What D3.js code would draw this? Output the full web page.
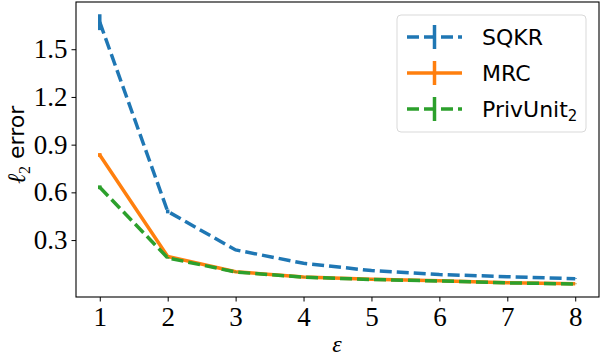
<!DOCTYPE html>
<html>
<head>
<meta charset="utf-8">
<script src="https://cdn.jsdelivr.net/npm/d3@7"></script>
<style>
  body { margin: 0; background: #fff; }
  svg { display: block; }
</style>
</head>
<body>
<script>
const width = 600;
const height = 358;

// data
var epsilons = [1, 2, 3, 4, 5, 6, 7, 8];
var sqkr = [1.67, 0.48, 0.238, 0.154, 0.108, 0.083, 0.070, 0.057];
var sqkr_err = [0.05, 0.012, 0.006, 0.004, 0.003, 0.002, 0.002, 0.002];
var mrc = [0.835, 0.197, 0.101, 0.068, 0.053, 0.044, 0.032, 0.025];
var mrc_err = [0.012, 0.005, 0.003, 0.002, 0.002, 0.001, 0.001, 0.001];
var privunit = [0.632, 0.188, 0.099, 0.067, 0.052, 0.043, 0.031, 0.024];
var privunit_err = [0.012, 0.005, 0.003, 0.002, 0.002, 0.001, 0.001, 0.001];
var yticks = [0.3, 0.6, 0.9, 1.2, 1.5];
var xticks = [1, 2, 3, 4, 5, 6, 7, 8];

var series = [
  {name: "SQKR", values: sqkr, err: sqkr_err, color: "#1f77b4", dash: "12,5"},
  {name: "MRC", values: mrc, err: mrc_err, color: "#ff7f0e", dash: null},
  {name: "PrivUnit", sub: "2", values: privunit, err: privunit_err, color: "#2ca02c", dash: "12,5"}
];

// plot box (note: "top" is a reserved window global, so use m_ names)
var m_left = 76, m_right = 599, m_top = 2, m_bottom = 297;
var lw = 3.5;

var svg = d3.select("body")
  .append("svg")
  .attr("width", width)
  .attr("height", height);

var xScale = d3.scaleLinear().domain([0.65, 8.35]).range([m_left, m_right]);
var yScale = d3.scaleLinear().domain([-0.058, 1.797]).range([m_bottom, m_top]);

var serif = "'Liberation Serif', 'DejaVu Serif', serif";
var sans = "'DejaVu Sans', sans-serif";

// axes
var xAxis = svg.append("g")
  .attr("transform", "translate(0," + m_bottom + ")")
  .call(d3.axisBottom(xScale).tickValues(xticks).tickSize(4.5).tickPadding(4).tickFormat(d3.format("d")));
var yAxis = svg.append("g")
  .attr("transform", "translate(" + m_left + ",0)")
  .call(d3.axisLeft(yScale).tickValues(yticks).tickSize(4.5).tickPadding(4).tickFormat(d3.format(".1f")));

[xAxis, yAxis].forEach(function(a){
  a.select(".domain").remove();
  a.selectAll("line").attr("stroke", "#000").attr("stroke-width", 1);
  a.selectAll("text")
    .attr("fill", "#000")
    .style("font-family", serif)
    .style("font-size", "27px");
});
xAxis.selectAll("text").attr("dy", "0.75em");

// frame
svg.append("rect")
  .attr("x", m_left).attr("y", m_top)
  .attr("width", m_right - m_left).attr("height", m_bottom - m_top)
  .attr("fill", "none").attr("stroke", "#000").attr("stroke-width", 1.1);

var line = d3.line()
  .x(function(d, i){ return xScale(epsilons[i]); })
  .y(function(d){ return yScale(d); });

series.forEach(function(s){
  var g = svg.append("g");
  // error bars
  g.selectAll("line.err")
    .data(s.values)
    .enter()
    .append("line")
    .attr("class", "err")
    .attr("x1", function(d, i){ return xScale(epsilons[i]); })
    .attr("x2", function(d, i){ return xScale(epsilons[i]); })
    .attr("y1", function(d, i){ return yScale(d - s.err[i]); })
    .attr("y2", function(d, i){ return yScale(d + s.err[i]); })
    .attr("stroke", s.color)
    .attr("stroke-width", lw);
  g.append("path")
    .datum(s.values)
    .attr("d", line)
    .attr("fill", "none")
    .attr("stroke", s.color)
    .attr("stroke-width", lw)
    .attr("stroke-dasharray", s.dash);
});

// legend
var legend = svg.append("g").attr("class", "legend");
legend.append("rect")
  .attr("x", 397).attr("y", 15)
  .attr("width", 189).attr("height", 117)
  .attr("rx", 4)
  .attr("fill", "#fff").attr("fill-opacity", 0.8)
  .attr("stroke", "#d9d9d9").attr("stroke-width", 1);

var items = legend.selectAll("g.item")
  .data(series)
  .enter()
  .append("g")
  .attr("class", "item")
  .attr("transform", function(d, i){ return "translate(0," + (37 + i * 36) + ")"; });

items.append("line")
  .attr("x1", 407).attr("x2", 462)
  .attr("y1", 0).attr("y2", 0)
  .attr("stroke", function(d){ return d.color; })
  .attr("stroke-width", lw)
  .attr("stroke-dasharray", function(d){ return d.dash; });
items.append("line")
  .attr("x1", 434.5).attr("x2", 434.5)
  .attr("y1", -12).attr("y2", 12)
  .attr("stroke", function(d){ return d.color; })
  .attr("stroke-width", lw);

var labels = items.append("text")
  .attr("x", 482)
  .attr("y", 0)
  .attr("dy", "0.36em")
  .style("font-family", sans)
  .style("font-size", "22px")
  .attr("fill", "#000")
  .text(function(d){ return d.name; });
labels.filter(function(d){ return d.sub; })
  .append("tspan")
  .attr("dy", "0.3em")
  .style("font-size", "15px")
  .text(function(d){ return d.sub; });

// axis labels
var ylab = svg.append("text")
  .attr("transform", "translate(25,145) rotate(-90)")
  .attr("text-anchor", "middle")
  .attr("fill", "#000");
ylab.append("tspan").style("font-family", serif).style("font-style", "italic").style("font-size", "25px").text("ℓ");
ylab.append("tspan").style("font-family", serif).style("font-size", "16px").attr("dy", "0.3em").text("2");
ylab.append("tspan").style("font-family", sans).style("font-size", "22px").attr("dy", "-0.25em").text(" error");

svg.append("text")
  .attr("x", 337).attr("y", 352)
  .attr("text-anchor", "middle")
  .style("font-family", serif)
  .style("font-style", "italic")
  .style("font-size", "24px")
  .attr("fill", "#000")
  .text("ε");
</script>
</body>
</html>
